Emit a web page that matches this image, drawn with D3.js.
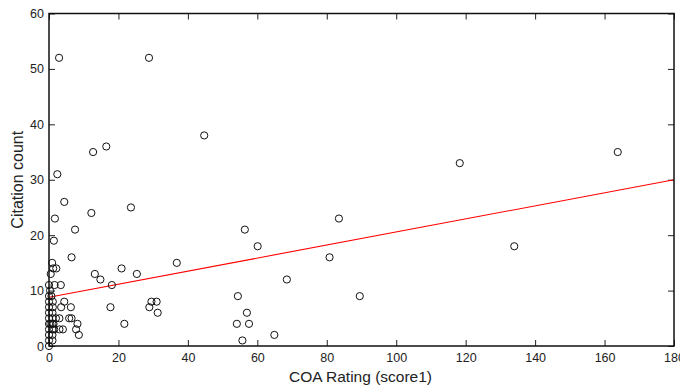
<!DOCTYPE html>
<html>
<head>
<meta charset="utf-8">
<script src="https://cdn.jsdelivr.net/npm/d3@7"></script>
<style>
  body { margin: 0; background: #fff; }
  svg { display: block; }
  text { font-family: "Liberation Sans", Arial, sans-serif; fill: #222; }
</style>
</head>
<body>
<svg id="chart"></svg>
<script>
// COA rating (score1) vs citation count
const coaRating = [
  2.9, 28.8, 12.7, 16.5, 2.4, 44.7, 4.4, 23.6, 1.7, 12.2, 7.5, 1.4,
  6.5, 0.9, 1.2, 2.1, 0.5, 0.0, 1.6, 3.4, 13.2, 14.8, 20.9, 25.3,
  18.1, 36.8, 17.7, 29.5, 31.0, 28.9, 31.3, 21.7,
  60.1, 80.8, 68.5, 54.4, 89.5, 57.0, 54.1, 57.6, 55.7, 64.9, 56.4, 83.5,
  118.3, 134.0, 163.8,
  0.0, 0.0, 0.3, 0.7, 4.4, 3.5, 6.3, 1.1, 1.1,
  3.0, 5.8, 6.5, 8.2, 7.8, 8.6, 3.0, 4.0, 1.5,
  0.0, 0.0, 0.0, 0.0, 0.0, 0.0, 0.0, 0.0,
  1.0, 1.0, 1.0, 1.0, 1.0, 1.0, 0.4, 1.3, 2.0
];
const citationCount = [
  52, 52, 35, 36, 31, 38, 26, 25, 23, 24, 21, 19,
  16, 15, 14, 14, 13, 11, 11, 11, 13, 12, 14, 13,
  11, 15, 7, 8, 8, 7, 6, 4,
  18, 16, 12, 9, 9, 6, 4, 4, 1, 2, 21, 23,
  33, 18, 35,
  8, 9, 10, 9, 8, 7, 7, 7, 8,
  5, 5, 5, 4, 3, 2, 3, 3, 3,
  0, 1, 2, 3, 4, 5, 6, 7,
  1, 2, 3, 4, 5, 6, 4, 4, 5
];

const xTicks = [0, 20, 40, 60, 80, 100, 120, 140, 160, 180];
const yTicks = [0, 10, 20, 30, 40, 50, 60];

// least squares line as drawn in the figure
const fitIntercept = 8.8;
const fitSlope = 0.1178;

const xTitle = "COA Rating (score1)";
const yTitle = "Citation count";

const margin = { top: 13.5, right: 6, bottom: 39, left: 49 };
const svgW = 680, svgH = 385;
const width = svgW - margin.left - margin.right;   // 625
const height = svgH - margin.top - margin.bottom;

const svg = d3.select("#chart")
  .attr("width", svgW)
  .attr("height", svgH);

const g = svg.append("g")
  .attr("transform", "translate(" + margin.left + "," + margin.top + ")");

const x = d3.scaleLinear().domain([0, 180]).range([0, width]);
const y = d3.scaleLinear().domain([0, 60]).range([height, 0]);

// axes with inward ticks
const bottom = g.append("g")
  .attr("transform", "translate(0," + height + ")")
  .call(d3.axisBottom(x).tickValues(xTicks).tickSizeInner(-6).tickSizeOuter(0).tickPadding(7));
const left = g.append("g")
  .call(d3.axisLeft(y).tickValues(yTicks).tickSizeInner(-6).tickSizeOuter(0).tickPadding(5));
g.append("g")
  .call(d3.axisTop(x).tickValues(xTicks).tickSizeInner(-6).tickSizeOuter(0).tickFormat(""));
g.append("g")
  .attr("transform", "translate(" + width + ",0)")
  .call(d3.axisRight(y).tickValues(yTicks).tickSizeInner(-6).tickSizeOuter(0).tickFormat(""));

g.selectAll(".domain").remove();
g.selectAll(".tick line").attr("stroke", "#222").attr("stroke-width", 1);
g.selectAll(".tick text")
  .style("font-size", "12.5px")
  .style("font-family", "'Liberation Sans', Arial, sans-serif")
  .attr("fill", "#222");

// regression line
g.append("line")
  .attr("x1", x(0)).attr("y1", y(fitIntercept))
  .attr("x2", x(180)).attr("y2", y(fitIntercept + fitSlope * 180))
  .attr("stroke", "#ff0000")
  .attr("stroke-width", 1.1);

// points
g.selectAll(".pt")
  .data(coaRating.map((v, i) => ({ x: v, y: citationCount[i] })))
  .enter().append("circle")
  .attr("class", "pt")
  .attr("cx", d => x(d.x))
  .attr("cy", d => y(d.y))
  .attr("r", 3.6)
  .attr("fill", "none")
  .attr("stroke", "#111")
  .attr("stroke-width", 1);

// frame
g.append("rect")
  .attr("x", 0).attr("y", 0)
  .attr("width", width).attr("height", height)
  .attr("fill", "none")
  .attr("stroke", "#111")
  .attr("stroke-width", 1.5);

svg.append("text")
  .attr("x", margin.left + x(90) - 1)
  .attr("y", 382)
  .attr("text-anchor", "middle")
  .style("font-size", "15.5px")
  .text(xTitle);

svg.append("text")
  .attr("transform", "translate(23," + (margin.top + height / 2) + ") rotate(-90)")
  .attr("text-anchor", "middle")
  .style("font-size", "16px")
  .text(yTitle);
</script>
</body>
</html>
